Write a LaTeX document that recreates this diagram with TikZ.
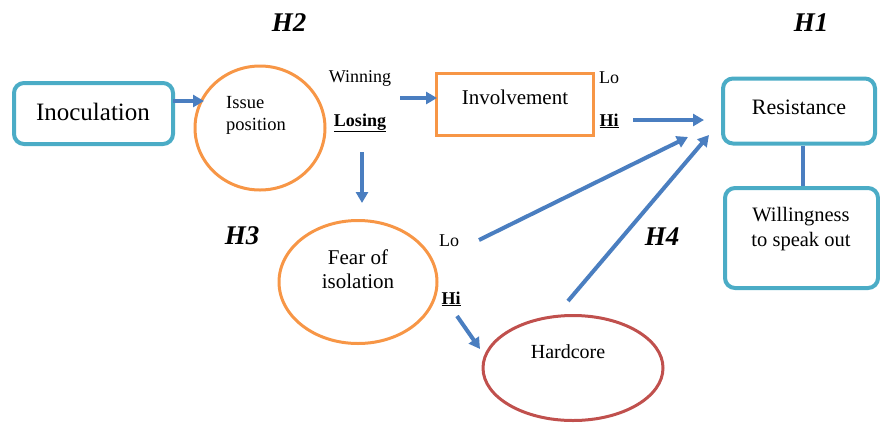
\documentclass[tikz,border=0pt]{standalone}
\usepackage{fontspec}
\setmainfont{Liberation Serif}
\usetikzlibrary{shapes.geometric,arrows.meta}
\definecolor{cyanbox}{RGB}{75,172,198}
\definecolor{orangeline}{RGB}{247,150,70}
\definecolor{redline}{RGB}{192,80,77}
\definecolor{arrowblue}{RGB}{74,126,192}
\tikzset{
  cbox/.style={draw=cyanbox,line width=4pt,rounded corners=10pt,inner sep=0pt},
  obox/.style={draw=orangeline,line width=3pt,inner sep=0pt},
  oell/.style={ellipse,draw=orangeline,line width=3pt,inner sep=0pt},
  rell/.style={ellipse,draw=redline,line width=3pt,inner sep=0pt},
  arr/.style={draw=arrowblue,line width=4pt,-{Triangle[length=11pt,width=12pt]}},
  plain/.style={draw=arrowblue,line width=4pt},
  lbl/.style={font=\fontsize{18}{22}\selectfont,inner sep=0pt},
  hyp/.style={font=\fontsize{27}{30}\selectfont\bfseries\itshape,inner sep=0pt},
}
\begin{document}
\begin{tikzpicture}[x=1pt,y=-1pt]
\useasboundingbox (0,0) rectangle (880,432);
% boxes
\node[cbox,minimum width=159pt,minimum height=61pt] (inoc) at (93.5,113.5) {};
\node[font=\fontsize{25}{28}\selectfont,inner sep=0pt] (inoct) at (93,112) {Inoculation};
\node[oell,minimum width=130pt,minimum height=124pt] (issue) at (260,128) {};
\node[lbl,align=left,anchor=west,font=\fontsize{18.5}{22}\selectfont] (issuet) at (226,115) {Issue\\position};
\node[lbl] (win) at (360,78) {Winning};
\node[lbl,font=\fontsize{18}{22}\selectfont\bfseries] (lose) at (360,123) {\underline{Losing}};
\node[obox,minimum width=157pt,minimum height=62pt] (inv) at (514.5,104) {};
\node[font=\fontsize{21}{24}\selectfont,inner sep=0pt] (invt) at (515,97) {Involvement};
\node[lbl] (invlo) at (609,78) {Lo};
\node[lbl,font=\fontsize{18}{22}\selectfont\bfseries] (invhi) at (609,121) {\underline{Hi}};
\node[cbox,minimum width=152pt,minimum height=65pt] (res) at (799,111) {};
\node[font=\fontsize{22}{26}\selectfont,inner sep=0pt] (rest) at (799,107) {Resistance};
\node[cbox,minimum width=153pt,minimum height=100pt] (will) at (801.5,238) {};
\node[font=\fontsize{20.5}{25}\selectfont,inner sep=0pt,align=center] (willt) at (801,229.5) {Willingness\\to speak out};
\node[oell,minimum width=158pt,minimum height=123pt] (fear) at (358,282) {};
\node[font=\fontsize{21}{24}\selectfont,inner sep=0pt,align=center] (feart) at (358,269) {Fear of\\isolation};
\node[lbl] (fearlo) at (449,241) {Lo};
\node[lbl,font=\fontsize{18}{22}\selectfont\bfseries] (fearhi) at (451,299) {\underline{Hi}};
\node[rell,minimum width=180pt,minimum height=105pt] (hard) at (573,368) {};
\node[font=\fontsize{20}{24}\selectfont,inner sep=0pt] (hardt) at (568,352) {Hardcore};
% hypothesis labels
\node[hyp] (h2) at (289,23) {H2};
\node[hyp] (h1) at (811,23) {H1};
\node[hyp] (h3) at (242,236) {H3};
\node[hyp] (h4) at (662,237) {H4};
% connector end points
\coordinate (a1s) at (173,101);
\coordinate (a1e) at (204,101);
\coordinate (a2s) at (400,98);
\coordinate (a2e) at (437,98);
\coordinate (a3s) at (362,152);
\coordinate (a3e) at (362,203);
\coordinate (a4s) at (633,120);
\coordinate (a4e) at (704,120);
\coordinate (a5s) at (479,240);
\coordinate (a5e) at (688,137);
\coordinate (a6s) at (568,301);
\coordinate (a6e) at (709,135);
\coordinate (a7s) at (457,316);
\coordinate (a7e) at (480,349);
% connectors
\draw[arr] (a1s) -- (a1e);
\draw[arr] (a2s) -- (a2e);
\draw[arr] (a3s) -- (a3e);
\draw[arr] (a4s) -- (a4e);
\draw[arr] (a5s) -- (a5e);
\draw[arr] (a6s) -- (a6e);
\draw[arr] (a7s) -- (a7e);
\draw[plain] (res.south -| 803,0) -- (will.north -| 803,0);
\end{tikzpicture}
\end{document}
